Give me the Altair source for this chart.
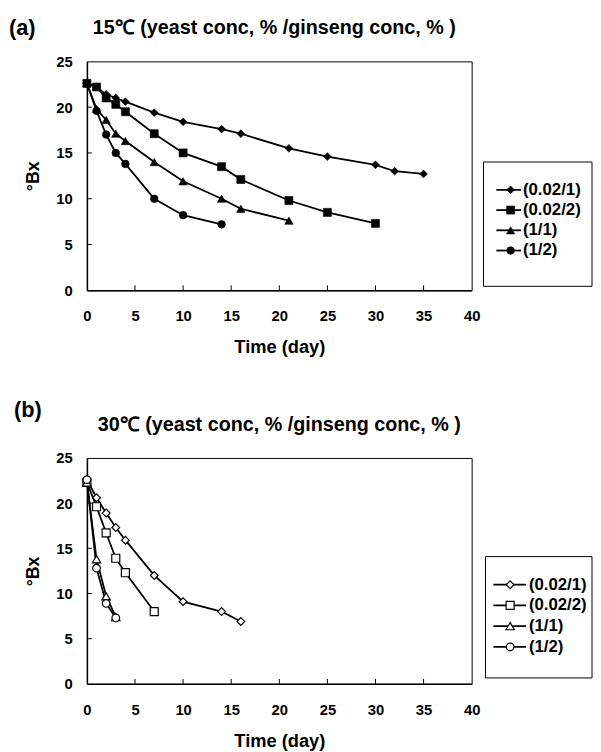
import altair as alt
import pandas as pd

FONT = "Liberation Sans"

series = ["(0.02/1)", "(0.02/2)", "(1/1)", "(1/2)"]
shapes = ["diamond", "square", "triangle-up", "circle"]
sizes = [62, 66, 72, 60]

# 15 C panel
days15 = [
    [0, 1, 2, 3, 4, 7, 10, 14, 16, 21, 25, 30, 32, 35],
    [0, 1, 2, 3, 4, 7, 10, 14, 16, 21, 25, 30],
    [0, 1, 2, 3, 4, 7, 10, 14, 16, 21],
    [0, 1, 2, 3, 4, 7, 10, 14],
]
bx15 = [
    [22.6, 22.2, 21.4, 21.0, 20.6, 19.4, 18.4, 17.6, 17.1, 15.5, 14.6, 13.7, 13.0, 12.7],
    [22.6, 22.2, 21.0, 20.3, 19.5, 17.1, 15.0, 13.5, 12.1, 9.8, 8.5, 7.3],
    [22.6, 19.8, 18.6, 17.1, 16.3, 14.0, 11.9, 10.0, 8.9, 7.6],
    [22.6, 19.6, 17.0, 15.0, 13.8, 10.0, 8.2, 7.2],
]

# 30 C panel
days30 = [
    [0, 1, 2, 3, 4, 7, 10, 14, 16],
    [0, 1, 2, 3, 4, 7],
    [0, 1, 2, 3],
    [0, 1, 2, 3],
]
bx30 = [
    [22.6, 20.6, 18.9, 17.3, 15.9, 12.0, 9.1, 8.0, 6.9],
    [22.3, 19.6, 16.7, 13.9, 12.3, 8.0],
    [22.3, 13.8, 9.7, 7.4],
    [22.6, 12.8, 8.9, 7.3],
]

x_ticks = [0, 5, 10, 15, 20, 25, 30, 35, 40]
y_ticks = [0, 5, 10, 15, 20, 25]
x_inner_ticks = [5, 10, 15, 20, 25, 30, 35]
y_inner_ticks = [5, 10, 15, 20]

title15 = "15\u2103 (yeast conc, % /ginseng conc, % )"
title30 = "30\u2103 (yeast conc, % /ginseng conc, % )"


def long_df(days, vals):
    rows = []
    for s, sz, dl, vl in zip(series, sizes, days, vals):
        for d, v in zip(dl, vl):
            rows.append({"series": s, "day": d, "bx": v, "sz": sz})
    return pd.DataFrame(rows)


def panel(days, vals, filled, W, H, tag, tag_x, tag_y, title, title_x, title_y, leg):
    df = long_df(days, vals)
    xs = alt.Scale(domain=[0, 40], nice=False)
    ys = alt.Scale(domain=[0, 25], nice=False)
    xaxis = alt.Axis(values=x_ticks, title="Time (day)", grid=False, ticks=False, tickSize=0,
                     labelFlush=False, labelOverlap=False,
                     domainColor="black", domainWidth=1.5,
                     labelFont=FONT, labelFontSize=15, labelFontWeight="bold", labelColor="black",
                     labelPadding=19,
                     titleFont=FONT, titleFontSize=18.5, titleFontWeight="bold", titleColor="black",
                     titlePadding=14)
    yaxis = alt.Axis(values=y_ticks, title="\u00b0Bx", grid=False, ticks=False, tickSize=0,
                     labelFlush=False, labelOverlap=False,
                     domainColor="black", domainWidth=1.5,
                     labelFont=FONT, labelFontSize=15, labelFontWeight="bold", labelColor="black",
                     labelPadding=15,
                     titleFont=FONT, titleFontSize=18, titleFontWeight="bold", titleColor="black",
                     titlePadding=13)
    shape_enc = alt.Shape("series:N", scale=alt.Scale(domain=series, range=shapes), legend=None)
    size_enc = alt.Size("sz:Q", scale=None, legend=None)
    if filled:
        pt_style = dict(filled=True, fill="black", stroke="black", strokeWidth=0.6, opacity=1)
    else:
        pt_style = dict(filled=True, fill="white", stroke="black", strokeWidth=1.2, opacity=1)

    lines = alt.Chart(df).mark_line(color="black", strokeWidth=1.8).encode(
        x=alt.X("day:Q", scale=xs, axis=xaxis),
        y=alt.Y("bx:Q", scale=ys, axis=yaxis),
        detail="series:N",
        order="day:Q",
    )
    points = alt.Chart(df).mark_point(**pt_style).encode(
        x=alt.X("day:Q", scale=xs, axis=xaxis),
        y=alt.Y("bx:Q", scale=ys, axis=yaxis),
        shape=shape_enc,
        size=size_enc,
    )
    xt = alt.Chart(pd.DataFrame({"t": x_inner_ticks})).mark_rule(color="black", strokeWidth=1).encode(
        x=alt.X("t:Q", scale=xs, axis=xaxis),
        y=alt.value(H), y2=alt.value(H - 5),
    )
    yt = alt.Chart(pd.DataFrame({"v": y_inner_ticks})).mark_rule(color="black", strokeWidth=1).encode(
        y=alt.Y("v:Q", scale=ys, axis=yaxis),
        x=alt.value(0), x2=alt.value(5),
    )
    main = alt.layer(lines, points, xt, yt)

    ldf = pd.DataFrame({"series": series, "sz": sizes})
    ly = alt.Y("series:N", scale=alt.Scale(domain=series, range=[leg["y1"], leg["y2"]], padding=0), axis=None)
    one = pd.DataFrame({"k": [0]})
    box = alt.Chart(one).mark_rect(fillOpacity=0, stroke="black", strokeWidth=1).encode(
        x=alt.value(leg["bx1"]), x2=alt.value(leg["bx2"]),
        y=alt.value(leg["by1"]), y2=alt.value(leg["by2"]),
    )
    lline = alt.Chart(ldf).mark_rule(color="black", strokeWidth=1.8).encode(
        y=ly, x=alt.value(leg["lx1"]), x2=alt.value(leg["lx2"]),
    )
    lpts = alt.Chart(ldf).mark_point(**pt_style).encode(
        y=ly, x=alt.value(leg["mx"]), shape=shape_enc, size=size_enc,
    )
    ltxt = alt.Chart(ldf).mark_text(align="left", baseline="middle", font=FONT, fontSize=17,
                                    fontWeight="bold", color="black").encode(
        y=ly, x=alt.value(leg["tx"]), text="series:N",
    )
    tag_txt = alt.Chart(one).mark_text(text=tag, align="left", baseline="alphabetic", font=FONT,
                                       fontSize=22, fontWeight="bold", color="black").encode(
        x=alt.value(tag_x), y=alt.value(tag_y))
    ttl_txt = alt.Chart(one).mark_text(text=title, align="left", baseline="alphabetic", font=FONT,
                                       fontSize=20, fontWeight="bold", color="black").encode(
        x=alt.value(title_x), y=alt.value(title_y))

    legend = alt.layer(box, lline, lpts, ltxt)
    return alt.layer(main, legend, tag_txt, ttl_txt).resolve_scale(y="independent").properties(
        width=W, height=H)


leg15 = dict(bx1=402, bx2=512, by1=102, by2=228, y1=120, y2=202, lx1=415, lx2=440, mx=429.5, tx=442)
leg30 = dict(bx1=404, bx2=512, by1=100, by2=223, y1=118, y2=202, lx1=412, lx2=445, mx=429, tx=448)

top = panel(days15, bx15, True, 390, 232, "(a)", -79, -27, title15, 6, -28, leg15)
bottom = panel(days30, bx30, False, 390, 229, "(b)", -74, -42, title30, 11, -27, leg30)

chart = alt.vconcat(top, bottom, spacing=42).properties(
    padding={"left": 0, "top": 3, "right": 0, "bottom": 0}
).configure_view(stroke="black", strokeWidth=1)

chart.save("out.html", embed_options={"renderer": "svg", "actions": False})
